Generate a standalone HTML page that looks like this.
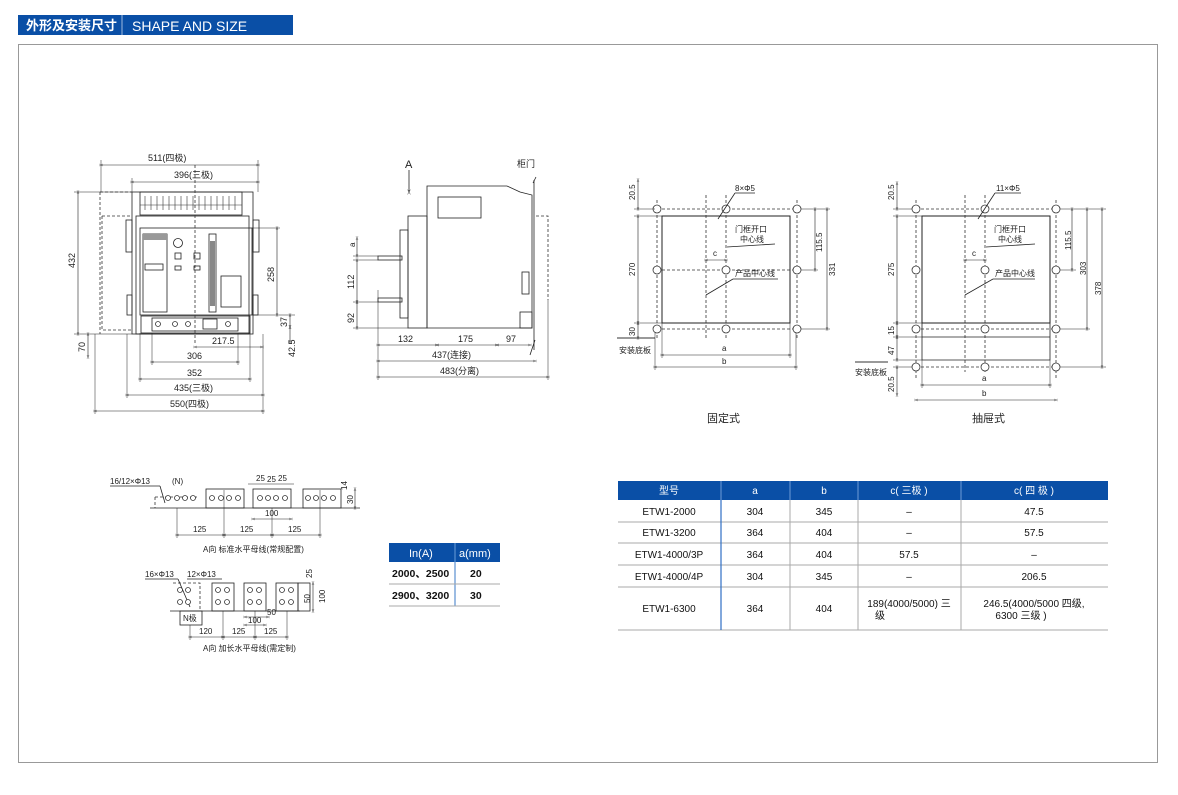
<!DOCTYPE html>
<html><head><meta charset="utf-8"><style>
body{margin:0;background:#fff;}
svg{display:block;font-family:"Liberation Sans","Noto Sans CJK SC",sans-serif;}
.t{font-size:9px;fill:#222;}
.s{font-size:8px;fill:#222;}
.l{stroke:#222;stroke-width:0.8;fill:none;}
.d{stroke:#333;stroke-width:0.8;fill:none;stroke-dasharray:3 2;}
.dim{stroke:#222;stroke-width:0.6;fill:none;marker-start:url(#a);marker-end:url(#a);}
.ext{stroke:#222;stroke-width:0.5;fill:none;}
.hole{stroke:#333;stroke-width:0.8;fill:#fff;}
</style></head><body>
<svg width="1178" height="795" viewBox="0 0 1178 795">
<defs><marker id="a" viewBox="0 0 10 10" refX="5" refY="5" markerWidth="6" markerHeight="6" orient="auto-start-reverse"><path d="M0,2 L5,5 L0,8 M10,2 L5,5 L10,8" stroke="#222" fill="none"/></marker></defs>
<!-- header -->
<rect x="18" y="15" width="275" height="20" fill="#0a4fa6"/>
<line x1="122" y1="15" x2="122" y2="35" stroke="#9fb8dd" stroke-width="1"/>
<text x="26" y="30" font-size="13" font-weight="bold" fill="#fff">外形及安装尺寸</text>
<text x="132" y="31" font-size="14" fill="#fff">SHAPE AND SIZE</text>
<rect x="18.5" y="44.5" width="1139" height="718" fill="none" stroke="#999" stroke-width="1"/>

<!-- FRONT VIEW -->
<g>
<rect x="132" y="192" width="121" height="142" fill="#e9e9e9" class="l"/>
<rect x="140" y="192" width="102" height="23" fill="#e9e9e9" class="l"/>
<g stroke="#333" stroke-width="0.6">
<line x1="145" y1="196" x2="145" y2="210"/><line x1="151" y1="196" x2="151" y2="210"/><line x1="157" y1="196" x2="157" y2="210"/><line x1="163" y1="196" x2="163" y2="210"/><line x1="169" y1="196" x2="169" y2="210"/><line x1="175" y1="196" x2="175" y2="210"/><line x1="181" y1="196" x2="181" y2="210"/><line x1="187" y1="196" x2="187" y2="210"/><line x1="193" y1="196" x2="193" y2="210"/><line x1="199" y1="196" x2="199" y2="210"/><line x1="205" y1="196" x2="205" y2="210"/><line x1="211" y1="196" x2="211" y2="210"/><line x1="217" y1="196" x2="217" y2="210"/><line x1="223" y1="196" x2="223" y2="210"/><line x1="229" y1="196" x2="229" y2="210"/><line x1="235" y1="196" x2="235" y2="210"/>
<line x1="140" y1="205" x2="242" y2="205"/>
</g>
<rect x="136" y="216" width="113" height="118" fill="#f2f2f2" class="l"/>
<rect x="140" y="228" width="112" height="87" fill="#fff" class="l"/>
<rect x="143" y="234" width="24" height="78" fill="#e6e6e6" class="l"/>
<rect x="143" y="234" width="24" height="6" fill="#999"/>
<rect x="145" y="264" width="18" height="6" fill="#999" class="l"/>
<circle cx="178" cy="243" r="4.5" class="l"/>
<rect x="175" y="253" width="6" height="6" class="l"/><rect x="194" y="253" width="6" height="6" class="l"/>
<rect x="175" y="266" width="6" height="4" class="l"/><rect x="194" y="266" width="6" height="4" class="l"/>
<rect x="209" y="234" width="7" height="78" fill="#fff" class="l"/>
<rect x="210" y="241" width="5" height="65" fill="#888"/>
<rect x="221" y="276" width="20" height="31" fill="#fff" class="l"/>
<rect x="141" y="316" width="109" height="17" fill="#aaa" class="l"/>
<rect x="152" y="318" width="86" height="13" fill="#ddd" class="l"/>
<circle cx="158" cy="324" r="2.5" class="hole"/><circle cx="175" cy="324" r="2.5" class="hole"/><circle cx="188" cy="324" r="2.5" class="hole"/><circle cx="228" cy="324" r="2.5" class="hole"/>
<rect x="203" y="319" width="14" height="10" class="l"/>
<rect x="126" y="220" width="6" height="32" fill="#e6e6e6" class="l"/><rect x="253" y="220" width="6" height="32" fill="#e6e6e6" class="l"/>
<rect x="127" y="295" width="5" height="20" fill="#e6e6e6" class="l"/><rect x="253" y="295" width="5" height="20" fill="#e6e6e6" class="l"/>
<line x1="195" y1="165" x2="195" y2="345" class="d"/>
<path d="M100,192 H132 M100,192 V334 M102,216 H132 M102,216 V330 H132" class="d"/>
<line class="dim" x1="101" y1="165" x2="258" y2="165"/><text class="t" x="148" y="161">511(四极)</text>
<line class="dim" x1="132" y1="182" x2="258" y2="182"/><text class="t" x="174" y="178">396(三极)</text>
<line class="ext" x1="101" y1="160" x2="101" y2="192"/><line class="ext" x1="258" y1="160" x2="258" y2="192"/><line class="ext" x1="132" y1="178" x2="132" y2="192"/>
<line class="dim" x1="78" y1="192" x2="78" y2="334"/><text class="t" transform="translate(75,268) rotate(-90)">432</text>
<line class="ext" x1="74" y1="192" x2="132" y2="192"/><line class="ext" x1="74" y1="334" x2="132" y2="334"/>
<line class="dim" x1="88" y1="334" x2="88" y2="357"/><text class="t" transform="translate(85,352) rotate(-90)">70</text>
<line class="dim" x1="277" y1="228" x2="277" y2="315"/><text class="t" transform="translate(274,282) rotate(-90)">258</text>
<line class="ext" x1="252" y1="228" x2="280" y2="228"/><line class="ext" x1="252" y1="315" x2="295" y2="315"/>
<line class="dim" x1="290" y1="315" x2="290" y2="327"/><text class="t" transform="translate(287,327) rotate(-90)">37</text>
<line class="dim" x1="290" y1="327" x2="290" y2="342"/><text class="t" transform="translate(295,357) rotate(-90)">42.5</text>
<line class="dim" x1="195" y1="347" x2="262" y2="347"/><text class="t" x="212" y="344">217.5</text>
<line class="dim" x1="152" y1="362" x2="238" y2="362"/><text class="t" x="187" y="359">306</text>
<line class="dim" x1="140" y1="379" x2="250" y2="379"/><text class="t" x="187" y="376">352</text>
<line class="dim" x1="127" y1="395" x2="263" y2="395"/><text class="t" x="174" y="391">435(三极)</text>
<line class="dim" x1="95" y1="411" x2="263" y2="411"/><text class="t" x="170" y="407">550(四极)</text>
<line class="ext" x1="152" y1="333" x2="152" y2="365"/><line class="ext" x1="238" y1="333" x2="238" y2="365"/><line class="ext" x1="140" y1="333" x2="140" y2="382"/><line class="ext" x1="250" y1="333" x2="250" y2="382"/><line class="ext" x1="127" y1="334" x2="127" y2="398"/><line class="ext" x1="263" y1="334" x2="263" y2="414"/><line class="ext" x1="95" y1="334" x2="95" y2="414"/>
</g>

<!-- SIDE VIEW -->
<g>
<path d="M427,186 H507 L520,192 L532,195 V328 H427 Z" fill="#e4e4e4" class="l"/>
<rect x="438" y="197" width="43" height="21" fill="#aaa" class="l"/>
<rect x="408" y="216" width="19" height="112" fill="#999" class="l"/>
<rect x="400" y="230" width="8" height="88" fill="#bbb" class="l"/>
<rect x="378" y="256" width="24" height="4" fill="#fff" class="l"/>
<rect x="378" y="298" width="24" height="4" fill="#fff" class="l"/>
<rect x="522" y="272" width="7" height="22" fill="#bbb" class="l"/>
<rect x="520" y="312" width="12" height="16" fill="#999" class="l"/>
<path d="M533,183 L536,177 M535,340 L530,355" class="l"/><line x1="534" y1="180" x2="534" y2="350" class="l"/>
<path d="M536,216 H548 V300" class="d"/>
<line x1="409" y1="170" x2="409" y2="192" class="l" marker-end="url(#a)"/><text x="405" y="168" font-size="11" fill="#222">A</text>
<text class="t" x="517" y="167">柜门</text>
<line class="dim" x1="378" y1="345" x2="437" y2="345"/><text class="t" x="398" y="342">132</text>
<line class="dim" x1="437" y1="345" x2="497" y2="345"/><text class="t" x="458" y="342">175</text>
<line class="dim" x1="497" y1="345" x2="530" y2="345"/><text class="t" x="506" y="342">97</text>
<line class="dim" x1="378" y1="361" x2="535" y2="361"/><text class="t" x="432" y="358">437(连接)</text>
<line class="dim" x1="378" y1="377" x2="548" y2="377"/><text class="t" x="440" y="374">483(分离)</text>
<line class="ext" x1="378" y1="290" x2="378" y2="380"/><line class="ext" x1="548" y1="300" x2="548" y2="380"/>
<line class="dim" x1="357" y1="238" x2="357" y2="256"/><text class="s" transform="translate(355,247) rotate(-90)">a</text>
<line class="dim" x1="357" y1="260" x2="357" y2="302"/><text class="t" transform="translate(354,289) rotate(-90)">112</text>
<line class="dim" x1="357" y1="302" x2="357" y2="328"/><text class="t" transform="translate(354,323) rotate(-90)">92</text>
<line class="ext" x1="353" y1="256" x2="378" y2="256"/><line class="ext" x1="353" y1="260" x2="378" y2="260"/><line class="ext" x1="353" y1="302" x2="378" y2="302"/><line class="ext" x1="353" y1="328" x2="408" y2="328"/>
</g>

<!-- FIXED MOUNTING -->
<g>
<rect x="662" y="216" width="128" height="107" fill="#fff" stroke="#222" stroke-width="1"/>
<path d="M657,209 H797 M657,270 H797 M657,329 H797 M657,200 V340 M797,200 V340 M706,195 V340 M726,195 V340" class="d"/>
<g class="hole"><circle cx="657" cy="209" r="4"/><circle cx="726" cy="209" r="4"/><circle cx="797" cy="209" r="4"/><circle cx="657" cy="270" r="4"/><circle cx="726" cy="270" r="4"/><circle cx="797" cy="270" r="4"/><circle cx="657" cy="329" r="4"/><circle cx="726" cy="329" r="4"/><circle cx="797" cy="329" r="4"/></g>
<line class="l" x1="718" y1="219" x2="735" y2="193"/><line class="l" x1="735" y1="193" x2="755" y2="193"/><text class="s" x="735" y="191">8×Φ5</text>
<text class="s" x="735" y="232">门框开口</text><text class="s" x="740" y="242">中心线</text><line class="l" x1="727" y1="247" x2="775" y2="244"/>
<line class="dim" x1="706" y1="260" x2="726" y2="260"/><text class="s" x="713" y="256">c</text>
<text class="s" x="735" y="276">产品中心线</text><line class="l" x1="706" y1="295" x2="733" y2="279"/><line class="l" x1="733" y1="279" x2="778" y2="279"/>
<line class="dim" x1="638" y1="180" x2="638" y2="209"/><text class="s" transform="translate(635,200) rotate(-90)">20.5</text>
<line class="dim" x1="638" y1="216" x2="638" y2="323"/><text class="s" transform="translate(635,276) rotate(-90)">270</text>
<line class="dim" x1="638" y1="323" x2="638" y2="338"/><text class="s" transform="translate(635,336) rotate(-90)">30</text>
<line class="ext" x1="634" y1="209" x2="655" y2="209"/><line class="ext" x1="634" y1="216" x2="662" y2="216"/><line class="ext" x1="634" y1="323" x2="662" y2="323"/>
<line x1="617" y1="338" x2="655" y2="338" stroke="#333"/><text class="s" x="619" y="353">安装底板</text>
<line class="dim" x1="662" y1="355" x2="790" y2="355"/><text class="s" x="722" y="351">a</text>
<line class="dim" x1="655" y1="367" x2="796" y2="367"/><text class="s" x="722" y="364">b</text>
<line class="ext" x1="662" y1="323" x2="662" y2="358"/><line class="ext" x1="790" y1="323" x2="790" y2="358"/><line class="ext" x1="655" y1="333" x2="655" y2="370"/><line class="ext" x1="796" y1="333" x2="796" y2="370"/>
<line class="dim" x1="815" y1="209" x2="815" y2="270"/><text class="s" transform="translate(822,252) rotate(-90)">115.5</text>
<line class="dim" x1="827" y1="209" x2="827" y2="329"/><text class="s" transform="translate(835,276) rotate(-90)">331</text>
<line class="ext" x1="801" y1="209" x2="830" y2="209"/><line class="ext" x1="801" y1="270" x2="818" y2="270"/><line class="ext" x1="801" y1="329" x2="830" y2="329"/>
<text x="707" y="422" font-size="11" fill="#222">固定式</text>
</g>

<!-- DRAWOUT MOUNTING -->
<g>
<rect x="922" y="216" width="128" height="107" fill="#fff" stroke="#222" stroke-width="1"/>
<path d="M922,323 V360 H1050 V323 M922,337 H1050" stroke="#222" stroke-width="0.8" fill="none"/>
<path d="M916,209 H1056 M916,329 H1056 M916,367 H1056 M916,200 V380 M1056,200 V380 M965,195 V372 M985,195 V372" class="d"/>
<g class="hole"><circle cx="916" cy="209" r="4"/><circle cx="985" cy="209" r="4"/><circle cx="1056" cy="209" r="4"/><circle cx="916" cy="270" r="4"/><circle cx="985" cy="270" r="4"/><circle cx="1056" cy="270" r="4"/><circle cx="916" cy="329" r="4"/><circle cx="985" cy="329" r="4"/><circle cx="1056" cy="329" r="4"/><circle cx="916" cy="367" r="4"/><circle cx="985" cy="367" r="4"/><circle cx="1056" cy="367" r="4"/></g>
<line class="l" x1="978" y1="219" x2="995" y2="193"/><line class="l" x1="995" y1="193" x2="1021" y2="193"/><text class="s" x="996" y="191">11×Φ5</text>
<text class="s" x="994" y="232">门框开口</text><text class="s" x="998" y="242">中心线</text><line class="l" x1="986" y1="247" x2="1035" y2="244"/>
<line class="dim" x1="965" y1="260" x2="985" y2="260"/><text class="s" x="972" y="256">c</text>
<text class="s" x="995" y="276">产品中心线</text><line class="l" x1="965" y1="295" x2="993" y2="279"/><line class="l" x1="993" y1="279" x2="1035" y2="279"/>
<line class="dim" x1="897" y1="183" x2="897" y2="209"/><text class="s" transform="translate(894,200) rotate(-90)">20.5</text>
<line class="dim" x1="897" y1="216" x2="897" y2="323"/><text class="s" transform="translate(894,276) rotate(-90)">275</text>
<line class="dim" x1="897" y1="323" x2="897" y2="337"/><text class="s" transform="translate(894,335) rotate(-90)">15</text>
<line class="dim" x1="897" y1="337" x2="897" y2="360"/><text class="s" transform="translate(894,355) rotate(-90)">47</text>
<line class="dim" x1="897" y1="367" x2="897" y2="395"/><text class="s" transform="translate(894,392) rotate(-90)">20.5</text>
<line class="ext" x1="893" y1="209" x2="912" y2="209"/><line class="ext" x1="893" y1="216" x2="922" y2="216"/><line class="ext" x1="893" y1="323" x2="922" y2="323"/><line class="ext" x1="893" y1="337" x2="922" y2="337"/><line class="ext" x1="893" y1="360" x2="922" y2="360"/><line class="ext" x1="893" y1="367" x2="912" y2="367"/>
<line x1="855" y1="362" x2="888" y2="362" stroke="#333"/><text class="s" x="855" y="375">安装底板</text>
<line class="dim" x1="922" y1="385" x2="1050" y2="385"/><text class="s" x="982" y="381">a</text>
<line class="dim" x1="916" y1="400" x2="1056" y2="400"/><text class="s" x="982" y="396">b</text>
<line class="ext" x1="922" y1="360" x2="922" y2="388"/><line class="ext" x1="1050" y1="360" x2="1050" y2="388"/>
<line class="dim" x1="1072" y1="209" x2="1072" y2="270"/><text class="s" transform="translate(1071,250) rotate(-90)">115.5</text>
<line class="dim" x1="1087" y1="209" x2="1087" y2="329"/><text class="s" transform="translate(1086,275) rotate(-90)">303</text>
<line class="dim" x1="1102" y1="209" x2="1102" y2="367"/><text class="s" transform="translate(1101,295) rotate(-90)">378</text>
<line class="ext" x1="1060" y1="209" x2="1106" y2="209"/><line class="ext" x1="1060" y1="270" x2="1076" y2="270"/><line class="ext" x1="1060" y1="329" x2="1090" y2="329"/><line class="ext" x1="1060" y1="367" x2="1106" y2="367"/>
<text x="972" y="422" font-size="11" fill="#222">抽屉式</text>
</g>

<!-- BUSBARS standard -->
<g>
<text class="s" x="110" y="484">16/12×Φ13</text><line class="l" x1="110" y1="486" x2="160" y2="486"/><line class="l" x1="160" y1="486" x2="165" y2="503"/>
<text class="s" x="172" y="484">(N)</text>
<path d="M155,497 H197 M155,497 V508" class="d"/>
<rect x="206" y="489" width="38" height="19" fill="#eee" class="l"/>
<rect x="253" y="489" width="38" height="19" fill="#eee" class="l"/>
<rect x="303" y="489" width="38" height="19" fill="#eee" class="l"/>
<line class="l" x1="150" y1="508" x2="360" y2="508"/>
<g class="hole"><circle cx="168" cy="498" r="2.5"/><circle cx="177" cy="498" r="2.5"/><circle cx="185" cy="498" r="2.5"/><circle cx="193" cy="498" r="2.5"/><circle cx="212" cy="498" r="2.5"/><circle cx="221" cy="498" r="2.5"/><circle cx="229" cy="498" r="2.5"/><circle cx="238" cy="498" r="2.5"/><circle cx="260" cy="498" r="2.5"/><circle cx="268" cy="498" r="2.5"/><circle cx="276" cy="498" r="2.5"/><circle cx="285" cy="498" r="2.5"/><circle cx="308" cy="498" r="2.5"/><circle cx="316" cy="498" r="2.5"/><circle cx="324" cy="498" r="2.5"/><circle cx="333" cy="498" r="2.5"/></g>
<text class="s" x="256" y="481">25</text><text class="s" x="267" y="482">25</text><text class="s" x="278" y="481">25</text>
<line class="ext" x1="248" y1="484" x2="294" y2="484"/>
<line class="dim" x1="253" y1="519" x2="291" y2="519"/><text class="s" x="265" y="516">100</text>
<line class="dim" x1="177" y1="535" x2="224" y2="535"/><text class="s" x="193" y="532">125</text>
<line class="dim" x1="224" y1="535" x2="272" y2="535"/><text class="s" x="240" y="532">125</text>
<line class="dim" x1="272" y1="535" x2="320" y2="535"/><text class="s" x="288" y="532">125</text>
<line class="ext" x1="177" y1="508" x2="177" y2="538"/><line class="ext" x1="224" y1="490" x2="224" y2="538"/><line class="ext" x1="272" y1="508" x2="272" y2="538"/><line class="ext" x1="320" y1="490" x2="320" y2="538"/>
<line class="dim" x1="355" y1="489" x2="355" y2="508"/><text class="s" transform="translate(353,504) rotate(-90)">30</text>
<text class="s" transform="translate(347,490) rotate(-90)">14</text>
<text class="s" x="203" y="552" fill="#333">A向  标准水平母线(常规配置)</text>
</g>

<!-- BUSBARS extended -->
<g>
<text class="s" x="145" y="577">16×Φ13</text><text class="s" x="187" y="577">12×Φ13</text>
<line class="l" x1="145" y1="579" x2="178" y2="579"/><line class="l" x1="178" y1="579" x2="190" y2="607"/><line class="l" x1="187" y1="579" x2="222" y2="579"/>
<path d="M173,583 H200 V611" class="d"/>
<rect x="212" y="583" width="22" height="28" fill="#eee" class="l"/>
<rect x="244" y="583" width="22" height="28" fill="#eee" class="l"/>
<rect x="276" y="583" width="22" height="28" fill="#eee" class="l"/>
<rect x="298" y="583" width="12" height="28" fill="none" class="l"/>
<rect x="180" y="611" width="22" height="14" fill="#fff" class="l"/><text class="s" x="183" y="621">N极</text>
<line class="l" x1="170" y1="611" x2="300" y2="611"/>
<g class="hole"><circle cx="180" cy="590" r="2.5"/><circle cx="188" cy="590" r="2.5"/><circle cx="180" cy="602" r="2.5"/><circle cx="188" cy="602" r="2.5"/><circle cx="218" cy="590" r="2.5"/><circle cx="227" cy="590" r="2.5"/><circle cx="218" cy="602" r="2.5"/><circle cx="227" cy="602" r="2.5"/><circle cx="250" cy="590" r="2.5"/><circle cx="259" cy="590" r="2.5"/><circle cx="250" cy="602" r="2.5"/><circle cx="259" cy="602" r="2.5"/><circle cx="282" cy="590" r="2.5"/><circle cx="291" cy="590" r="2.5"/><circle cx="282" cy="602" r="2.5"/><circle cx="291" cy="602" r="2.5"/></g>
<line class="dim" x1="245" y1="617" x2="268" y2="617"/><text class="s" x="267" y="615">50</text>
<line class="dim" x1="245" y1="625" x2="265" y2="625"/><text class="s" x="248" y="623">100</text>
<line class="dim" x1="190" y1="637" x2="223" y2="637"/><text class="s" x="199" y="634">120</text>
<line class="dim" x1="223" y1="637" x2="255" y2="637"/><text class="s" x="232" y="634">125</text>
<line class="dim" x1="255" y1="637" x2="287" y2="637"/><text class="s" x="264" y="634">125</text>
<line class="ext" x1="190" y1="625" x2="190" y2="640"/><line class="ext" x1="223" y1="611" x2="223" y2="640"/><line class="ext" x1="255" y1="611" x2="255" y2="640"/><line class="ext" x1="287" y1="611" x2="287" y2="640"/>
<line class="dim" x1="313" y1="583" x2="313" y2="611"/><text class="s" transform="translate(325,603) rotate(-90)">100</text>
<text class="s" transform="translate(310,603) rotate(-90)">50</text><text class="s" transform="translate(312,578) rotate(-90)">25</text>
<text class="s" x="203" y="651" fill="#333">A向  加长水平母线(需定制)</text>
</g>

<!-- small table -->
<g font-size="10.5" fill="#111">
<rect x="389" y="543" width="111" height="19" fill="#0a4fa6"/>
<line x1="455" y1="543" x2="455" y2="606" stroke="#5b8fd0" stroke-width="1.2"/>
<text x="409" y="557" fill="#fff" font-size="11">In(A)</text><text x="459" y="557" fill="#fff" font-size="11">a(mm)</text>
<line x1="389" y1="584" x2="500" y2="584" stroke="#aaa"/><line x1="389" y1="606" x2="500" y2="606" stroke="#aaa"/>
<text x="392" y="577" font-weight="bold">2000、2500</text><text x="470" y="577" font-weight="bold">20</text>
<text x="392" y="599" font-weight="bold">2900、3200</text><text x="470" y="599" font-weight="bold">30</text>
</g>

<!-- main table -->
<g font-size="10" fill="#111" text-anchor="middle">
<rect x="618" y="481" width="490" height="19" fill="#0a4fa6"/>
<g stroke="#6f9bd6"><line x1="721" y1="481" x2="721" y2="500"/><line x1="790" y1="481" x2="790" y2="500"/><line x1="858" y1="481" x2="858" y2="500"/><line x1="961" y1="481" x2="961" y2="500"/></g>
<g fill="#fff"><text x="669" y="494">型号</text><text x="755" y="494">a</text><text x="824" y="494">b</text><text x="909" y="494">c( 三极 )</text><text x="1034" y="494">c( 四 极 )</text></g>
<g stroke="#aaa" stroke-width="1"><line x1="618" y1="522" x2="1108" y2="522"/><line x1="618" y1="543" x2="1108" y2="543"/><line x1="618" y1="565" x2="1108" y2="565"/><line x1="618" y1="587" x2="1108" y2="587"/><line x1="618" y1="630" x2="1108" y2="630"/>
<line x1="790" y1="500" x2="790" y2="630"/><line x1="858" y1="500" x2="858" y2="630"/><line x1="961" y1="500" x2="961" y2="630"/></g>
<line x1="721" y1="500" x2="721" y2="630" stroke="#2f6fc4" stroke-width="1.2"/>
<text x="669" y="515">ETW1-2000</text><text x="755" y="515">304</text><text x="824" y="515">345</text><text x="909" y="515">–</text><text x="1034" y="515">47.5</text>
<text x="669" y="536">ETW1-3200</text><text x="755" y="536">364</text><text x="824" y="536">404</text><text x="909" y="536">–</text><text x="1034" y="536">57.5</text>
<text x="669" y="558">ETW1-4000/3P</text><text x="755" y="558">364</text><text x="824" y="558">404</text><text x="909" y="558">57.5</text><text x="1034" y="558">–</text>
<text x="669" y="580">ETW1-4000/4P</text><text x="755" y="580">304</text><text x="824" y="580">345</text><text x="909" y="580">–</text><text x="1034" y="580">206.5</text>
<text x="669" y="612">ETW1-6300</text><text x="755" y="612">364</text><text x="824" y="612">404</text>
<text x="909" y="607">189(4000/5000) 三</text><text x="875" y="619" text-anchor="start">级</text>
<text x="1034" y="607">246.5(4000/5000 四级,</text><text x="1021" y="619">6300 三级 )</text>
</g>
</svg>
</body></html>
